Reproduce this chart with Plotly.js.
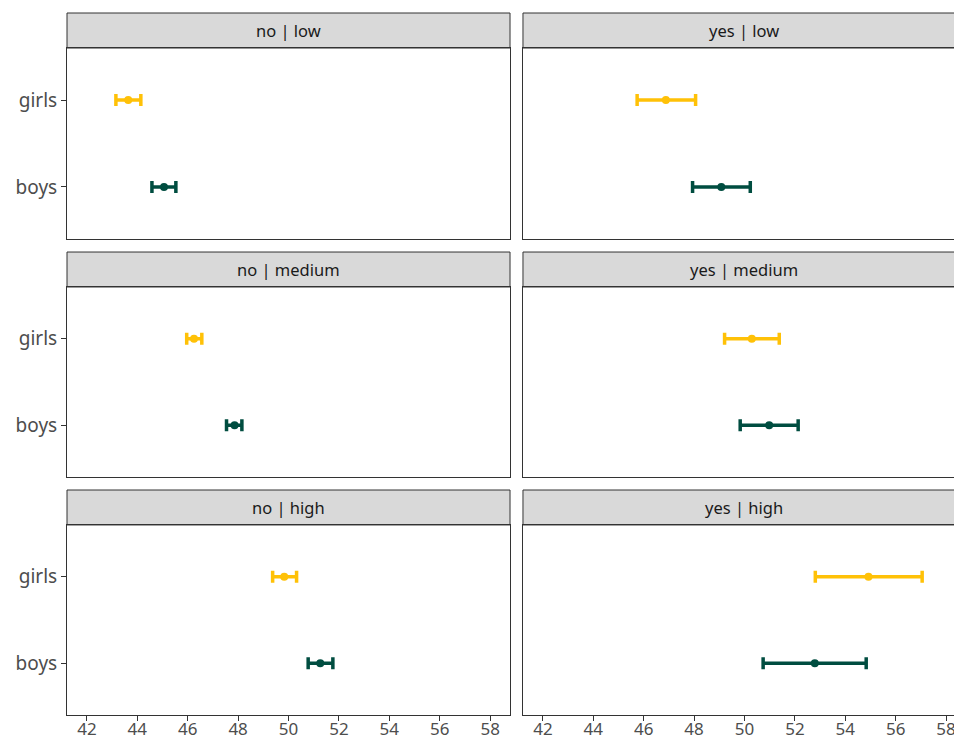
<!DOCTYPE html>
<html>
<head>
<meta charset="utf-8">
<script src="https://cdn.plot.ly/plotly-3.0.1.min.js"></script>
<style>
  html, body { margin: 0; padding: 0; overflow: hidden; background: #fff; }
  #chart { width: 974px; height: 742px; }
</style>
</head>
<body>
<div id="chart"></div>
<script>
// Facet labels (row-major: left column = "no", right column = "yes")
const facets = ['no | low', 'yes | low', 'no | medium', 'yes | medium', 'no | high', 'yes | high'];
const groups = ['boys', 'girls'];

// Means and interval bounds per facet
const girlsMean = [43.64, 46.88, 46.25, 50.29, 49.83, 54.92];
const girlsLow  = [43.15, 45.74, 45.96, 49.21, 49.37, 52.81];
const girlsHigh = [44.14, 48.06, 46.56, 51.38, 50.32, 57.05];
const boysMean  = [45.06, 49.08, 47.86, 50.98, 51.26, 52.79];
const boysLow   = [44.58, 47.94, 47.54, 49.83, 50.78, 50.74];
const boysHigh  = [45.53, 50.23, 48.15, 52.13, 51.76, 54.83];

const xTicks = [42, 44, 46, 48, 50, 52, 54, 56, 58];

const colGirls = '#FFC107';
const colBoys = '#004D40';
const FONT = 'Noto Sans, sans-serif';

// Paper-coordinate geometry of the 3x2 grid
const xDom = [[0, 0.4928], [0.5072, 1.0]];
const panelY = [[0.678, 0.9501], [0.339, 0.6097], [0, 0.2707]];
const stripY = [[0.9501, 1.0], [0.6097, 0.6595], [0.2707, 0.3205]];

const traces = [];
const layout = {
  width: 974, height: 742,
  margin: { l: 67, r: 8, t: 13, b: 27 },
  paper_bgcolor: '#fff', plot_bgcolor: '#fff',
  showlegend: false,
  font: { family: FONT, color: '#4D4D4D' },
  shapes: [], annotations: []
};

facets.forEach((name, i) => {
  const row = Math.floor(i / 2), col = i % 2;
  const n = i + 1;
  const xa = 'x' + (n === 1 ? '' : n), ya = 'y' + (n === 1 ? '' : n);
  const xKey = 'xaxis' + (n === 1 ? '' : n), yKey = 'yaxis' + (n === 1 ? '' : n);

  const series = [
    { g: 'girls', m: girlsMean[i], lo: girlsLow[i], hi: girlsHigh[i], c: colGirls },
    { g: 'boys',  m: boysMean[i],  lo: boysLow[i],  hi: boysHigh[i],  c: colBoys }
  ];
  series.forEach(s => {
    traces.push({
      type: 'scatter', mode: 'markers',
      x: [s.m], y: [s.g], xaxis: xa, yaxis: ya,
      marker: { color: s.c, size: 8 },
      error_x: {
        type: 'data', symmetric: false,
        array: [s.hi - s.m], arrayminus: [s.m - s.lo],
        color: s.c, thickness: 3.5, width: 6
      },
      hoverinfo: 'x+y'
    });
  });

  const bottom = row === 2, left = col === 0;
  layout[xKey] = {
    domain: xDom[col], anchor: ya,
    range: [41.21, 58.79], tickvals: xTicks,
    showgrid: false, zeroline: false,
    showline: true, mirror: true, linecolor: '#333333', linewidth: 1,
    ticks: bottom ? 'outside' : '', ticklen: 5, tickcolor: '#333333', tickwidth: 1,
    showticklabels: bottom, ticklabelstandoff: -6,
    tickfont: { family: FONT, size: 17, color: '#4D4D4D' }
  };
  layout[yKey] = {
    domain: panelY[row], anchor: xa,
    type: 'category', categoryorder: 'array', categoryarray: groups,
    range: [-0.6, 1.6],
    showgrid: false, zeroline: false,
    showline: true, mirror: true, linecolor: '#333333', linewidth: 1,
    ticks: left ? 'outside' : '', ticklen: 5, tickcolor: '#333333', tickwidth: 1,
    showticklabels: left,
    tickfont: { family: FONT, size: 19, color: '#4D4D4D' }
  };

  // Facet strip
  layout.shapes.push({
    type: 'rect', xref: 'paper', yref: 'paper',
    x0: xDom[col][0], x1: xDom[col][1], y0: stripY[row][0], y1: stripY[row][1],
    fillcolor: '#D9D9D9', line: { color: '#333333', width: 1 }, layer: 'below'
  });
  layout.annotations.push({
    xref: 'paper', yref: 'paper',
    x: (xDom[col][0] + xDom[col][1]) / 2,
    y: (stripY[row][0] + stripY[row][1]) / 2,
    text: name, showarrow: false,
    xanchor: 'center', yanchor: 'middle',
    font: { family: FONT, size: 16.5, color: '#1A1A1A' }
  });
});

Plotly.newPlot('chart', traces, layout, { displayModeBar: false, staticPlot: true });
</script>
</body>
</html>
